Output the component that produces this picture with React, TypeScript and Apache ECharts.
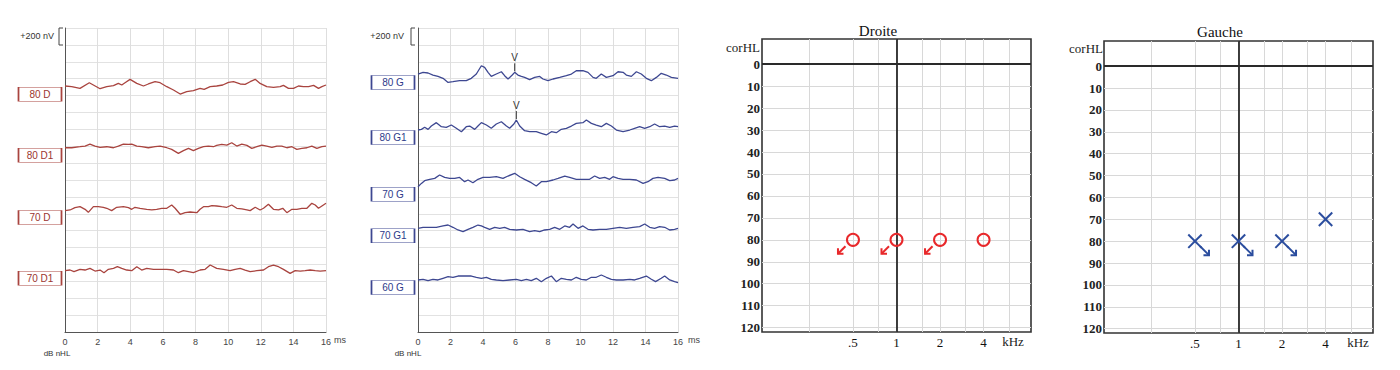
import React, { useEffect, useRef } from 'react';
import * as echarts from 'echarts';

const SANS = '"Liberation Sans", Arial, sans-serif';
const SERIF = '"Liberation Serif", "Times New Roman", serif';

// ---------- ABR traces: [latency ms, amplitude nV] ----------
const trace80D = [[0,8],[0.41,0],[0.92,-20],[1.49,47],[2.15,-24],[2.56,0],[2.97,12],[3.27,39],[3.48,20],[3.68,47],[3.99,87],[4.4,39],[4.81,8],[5.11,32],[5.52,59],[5.83,47],[6.24,0],[6.65,-39],[7.06,-87],[7.46,-59],[7.87,-47],[8.28,-20],[8.53,-32],[8.9,0],[9.3,8],[9.67,20],[10.02,51],[10.33,59],[10.74,32],[11.04,28],[11.35,59],[11.66,87],[11.96,39],[12.37,0],[12.78,-8],[13.19,0],[13.39,16],[13.7,-20],[14.01,-20],[14.31,8],[14.62,0],[14.93,0],[15.24,16],[15.54,-20],[15.75,0],[16,20]];
const trace80D1 = [[0,0],[0.41,0],[0.92,12],[1.23,20],[1.53,43],[1.84,20],[2.15,4],[2.56,12],[2.97,0],[3.27,20],[3.58,43],[3.89,39],[4.09,43],[4.4,20],[4.7,12],[5.11,0],[5.52,12],[5.83,20],[6.24,0],[6.54,-20],[6.95,-67],[7.26,-35],[7.57,-8],[7.87,-35],[8.18,-8],[8.49,12],[8.79,20],[9.1,12],[9.3,28],[9.61,39],[9.92,32],[10.22,59],[10.53,20],[10.84,43],[11.15,28],[11.45,-8],[11.76,12],[12.07,32],[12.37,20],[12.68,4],[12.99,20],[13.29,20],[13.6,0],[13.91,12],[14.21,-20],[14.52,-8],[14.83,0],[15.13,20],[15.44,-8],[15.75,12],[16,20]];
const trace70D = [[0,-8],[0.31,0],[0.61,28],[0.92,39],[1.23,8],[1.43,-28],[1.74,39],[2.04,39],[2.35,32],[2.56,20],[2.86,-8],[3.17,32],[3.58,39],[3.89,28],[4.09,8],[4.29,32],[4.6,20],[5.01,8],[5.32,0],[5.62,8],[5.93,20],[6.24,20],[6.54,59],[6.75,20],[7.06,-51],[7.36,-32],[7.67,-24],[8.08,-32],[8.28,8],[8.49,39],[8.79,39],[9,51],[9.3,47],[9.61,39],[9.92,32],[10.22,59],[10.53,20],[10.84,12],[11.15,0],[11.35,-8],[11.66,32],[11.96,0],[12.17,20],[12.47,67],[12.78,8],[13.09,0],[13.35,20],[13.6,-32],[13.91,8],[14.21,8],[14.52,20],[14.83,20],[15.13,79],[15.34,59],[15.54,20],[15.75,47],[16,79]];
const trace70D1 = [[0,0],[0.31,8],[0.55,-12],[0.92,16],[1.23,8],[1.53,28],[1.84,-4],[2.15,8],[2.39,-24],[2.66,16],[2.97,28],[3.21,47],[3.48,28],[3.78,8],[4.09,0],[4.4,47],[4.7,8],[5.01,28],[5.42,16],[5.83,16],[6.24,16],[6.65,8],[6.95,-24],[7.26,0],[7.57,-12],[7.87,-24],[8.28,8],[8.59,16],[8.9,67],[9.3,28],[9.71,16],[10.12,0],[10.43,16],[10.74,28],[11.04,8],[11.35,-12],[11.76,0],[12.17,8],[12.47,47],[12.78,67],[13.09,47],[13.39,16],[13.8,-32],[14.11,0],[14.42,-4],[14.72,0],[15.03,8],[15.34,0],[15.64,-4],[16,0]];
const trace80G = [[0,12],[0.31,32],[0.62,24],[0.92,0],[1.23,-16],[1.54,-39],[1.85,-87],[2.15,-79],[2.56,-67],[2.97,-67],[3.28,-39],[3.59,12],[3.9,110],[4.1,91],[4.31,32],[4.51,-16],[4.82,12],[5.13,39],[5.33,-8],[5.54,-47],[5.8,0],[5.95,32],[6.15,0],[6.36,-16],[6.56,-28],[6.87,-55],[7.18,-28],[7.49,-16],[7.69,-47],[8,-67],[8.31,-47],[8.72,-28],[9.13,-8],[9.44,12],[9.74,51],[10.15,51],[10.46,32],[10.77,-28],[10.97,-39],[11.28,12],[11.59,-28],[12,-8],[12.31,39],[12.62,32],[12.82,0],[13.13,-16],[13.44,39],[13.74,12],[14.05,-39],[14.36,-67],[14.67,-28],[14.97,20],[15.28,0],[15.59,-28],[16,-39]];
const trace80G1 = [[0,0],[0.21,8],[0.41,32],[0.62,8],[0.82,47],[1.13,87],[1.44,39],[1.74,32],[2.05,59],[2.36,20],[2.67,-20],[2.97,39],[3.18,47],[3.49,8],[3.69,47],[3.9,87],[4.21,59],[4.51,20],[4.82,71],[5.13,98],[5.44,47],[5.64,20],[5.9,71],[6.05,118],[6.26,47],[6.56,-8],[6.87,-20],[7.28,-20],[7.59,-39],[7.9,-59],[8.21,-20],[8.51,-32],[8.82,8],[9.13,20],[9.44,47],[9.74,79],[10.15,87],[10.36,118],[10.67,79],[10.97,59],[11.28,39],[11.59,79],[11.9,47],[12.21,0],[12.62,-20],[13.03,0],[13.33,20],[13.64,39],[13.95,20],[14.26,39],[14.56,71],[14.87,39],[15.18,47],[15.49,32],[15.79,47],[16,39]];
const trace70G = [[0,0],[0.21,39],[0.41,71],[0.72,87],[1.03,98],[1.33,138],[1.64,110],[1.95,98],[2.26,98],[2.56,110],[2.87,59],[3.08,79],[3.38,47],[3.69,87],[4,110],[4.41,110],[4.82,118],[5.23,98],[5.54,126],[5.95,158],[6.26,118],[6.56,87],[6.97,47],[7.28,8],[7.59,59],[7.9,59],[8.31,79],[8.62,98],[9.03,126],[9.33,110],[9.74,87],[10.15,87],[10.56,87],[10.87,126],[11.18,98],[11.49,110],[11.79,87],[12,118],[12.31,98],[12.62,87],[13.03,87],[13.44,79],[13.85,39],[14.15,59],[14.46,98],[14.77,110],[15.18,98],[15.49,71],[15.79,79],[16,98]];
const trace70G1 = [[0,0],[0.31,12],[0.72,12],[1.13,12],[1.54,28],[1.85,39],[2.15,12],[2.46,-20],[2.77,-39],[3.08,-12],[3.38,12],[3.69,39],[3.9,28],[4.1,12],[4.41,-12],[4.72,12],[5.03,0],[5.33,12],[5.64,-12],[6.05,-20],[6.46,-12],[6.87,-39],[7.18,-28],[7.49,-39],[7.79,-20],[8.1,-12],[8.41,12],[8.72,-12],[9.03,28],[9.33,12],[9.54,51],[9.85,0],[10.15,28],[10.46,-12],[10.77,-20],[11.18,-12],[11.59,-12],[12,0],[12.41,12],[12.82,0],[13.23,12],[13.64,20],[13.95,51],[14.26,12],[14.56,0],[14.87,20],[15.18,12],[15.49,-20],[15.79,-12],[16,0]];
const trace60G = [[0,0],[0.31,8],[0.62,-8],[0.92,8],[1.23,0],[1.54,20],[1.85,39],[2.15,32],[2.46,47],[2.87,47],[3.28,47],[3.59,32],[3.9,20],[4.21,32],[4.51,8],[4.82,0],[5.23,-8],[5.64,0],[6.05,8],[6.36,-8],[6.67,8],[6.97,-8],[7.28,20],[7.59,-20],[7.9,20],[8.21,47],[8.51,-20],[8.82,20],[9.13,8],[9.44,0],[9.74,32],[10.05,8],[10.36,0],[10.67,32],[10.97,32],[11.28,59],[11.59,32],[11.9,8],[12.21,0],[12.62,0],[13.03,8],[13.33,0],[13.64,20],[14.05,47],[14.36,8],[14.62,-20],[14.97,20],[15.18,47],[15.49,0],[15.79,-20],[16,-32]];

const rightEarNames = ['80 D', '80 D1', '70 D', '70 D1'];
const rightEarTraces = [trace80D, trace80D1, trace70D, trace70D1];
const rightEarOffsets = [2905, 2182, 1445, 726]; // nV, trace baselines
const leftEarNames = ['80 G', '80 G1', '70 G', '70 G1', '60 G'];
const leftEarTraces = [trace80G, trace80G1, trace70G, trace70G1, trace60G];
const leftEarOffsets = [3043, 2392, 1721, 1228, 616];
const waveVTraceIndex = [0, 1];
const waveVLatencies = [5.95, 6.05];

// ---------- Audiograms ----------
const freqKHz = [0.5, 1, 2, 4];
const freqLabels = ['.5', '1', '2', '4'];
const gridFreqKHz = [0.25, 0.5, 0.75, 1, 1.5, 2, 3, 4, 6];
const dbTicks = [0, 10, 20, 30, 40, 50, 60, 70, 80, 90, 100, 110, 120];
const droiteDb = [80, 80, 80, 80];
const droiteNoResponse = [1, 1, 1, 0];
const gaucheDb = [80, 80, 80, 70];
const gaucheNoResponse = [1, 1, 1, 0];

const RED_TRACE = '#a9443f';
const RED_LABEL = '#9b3530';
const BLUE_TRACE = '#3d4791';
const BLUE_LABEL = '#2d3a8a';
const AUD_RED = '#e8282b';
const AUD_BLUE = '#2b4d9e';

function abrAxes(gi: number) {
  return {
    x: {
      gridIndex: gi, type: 'value', min: 0, max: 16, interval: 2,
      axisLine: { show: true, onZero: false, lineStyle: { color: '#555', width: 1 } },
      axisTick: { show: false },
      axisLabel: { fontSize: 9, color: '#444', fontFamily: SANS, margin: 5 },
      splitLine: { show: true, lineStyle: { color: '#dedede', width: 1 } },
    },
    y: {
      gridIndex: gi, type: 'value', min: 0, max: 3600, interval: 200,
      axisLine: { show: true, onZero: false, lineStyle: { color: '#555', width: 1 } },
      axisTick: { show: false },
      axisLabel: { show: false },
      splitLine: { show: true, lineStyle: { color: '#e2e2e2', width: 1 } },
    },
  };
}

function abrSeries(names: string[], traces: number[][][], offsets: number[], gi: number, color: string, labelColor: string) {
  return traces.map((tr, i) => ({
    type: 'line', xAxisIndex: gi, yAxisIndex: gi, silent: true,
    data: tr.map(([t, v]) => [t, offsets[i] + v]),
    showSymbol: false, symbol: 'none', smooth: false,
    lineStyle: { color, width: 1.3 },
    markPoint: {
      silent: true, symbol: 'rect', symbolSize: [43, 14], symbolOffset: [-25, 7.5],
      itemStyle: { color: '#fff', borderColor: color, borderWidth: 1 },
      label: { show: true, position: 'inside', formatter: names[i], color: labelColor, fontSize: 10, fontFamily: SANS },
      data: [{ coord: [0, offsets[i]], name: names[i] }],
    },
  }));
}

function audAxes(gi: number) {
  return {
    x: {
      gridIndex: gi, type: 'value', min: -3.09, max: 3.09,
      axisLine: { show: false }, axisTick: { show: false, customValues: gridFreqKHz.map(f => Math.log2(f)) },
      axisLabel: {
        customValues: freqKHz.map(f => Math.log2(f)),
        formatter: (v: number) => {
          const i = freqKHz.findIndex(f => Math.abs(Math.log2(f) - v) < 1e-6);
          return i >= 0 ? freqLabels[i] : '';
        },
        fontFamily: SERIF, fontSize: 13, color: '#111', margin: 4,
      },
      splitLine: { show: true, lineStyle: { color: '#d8d8d8', width: 1 } },
    },
    y: {
      gridIndex: gi, type: 'value', inverse: true, min: -11.5, max: 122,
      axisLine: { show: false }, axisTick: { show: false, customValues: dbTicks },
      axisLabel: { customValues: dbTicks, fontFamily: SERIF, fontSize: 13, fontWeight: 'bold', color: '#222', margin: 2 },
      splitLine: { show: true, lineStyle: { color: '#d8d8d8', width: 1 } },
    },
  };
}

function renderRight(_p: any, api: any) {
  const p = api.coord([api.value(0), api.value(1)]);
  const x = p[0], y = p[1];
  const children: any[] = [
    { type: 'circle', shape: { cx: x, cy: y, r: 6 }, style: { fill: 'none', stroke: AUD_RED, lineWidth: 2 } },
  ];
  if (api.value(2)) {
    const tx = x - 15, ty = y + 14;
    children.push({ type: 'line', shape: { x1: x - 7.5, y1: y + 6.5, x2: tx, y2: ty }, style: { stroke: AUD_RED, lineWidth: 2 } });
    children.push({ type: 'polyline', shape: { points: [[tx + 5.5, ty], [tx, ty], [tx, ty - 5.5]] }, style: { stroke: AUD_RED, lineWidth: 2, fill: 'none' } });
  }
  return { type: 'group', children };
}

function renderLeft(_p: any, api: any) {
  const p = api.coord([api.value(0), api.value(1)]);
  const x = p[0], y = p[1], s = 6.7;
  const children: any[] = [
    { type: 'line', shape: { x1: x - s, y1: y - s, x2: x + s, y2: y + s }, style: { stroke: AUD_BLUE, lineWidth: 2 } },
    { type: 'line', shape: { x1: x - s, y1: y + s, x2: x + s, y2: y - s }, style: { stroke: AUD_BLUE, lineWidth: 2 } },
  ];
  if (api.value(2)) {
    const tx = x + 14, ty = y + 14;
    children.push({ type: 'line', shape: { x1: x + 5, y1: y + 5, x2: tx, y2: ty }, style: { stroke: AUD_BLUE, lineWidth: 2 } });
    children.push({ type: 'polyline', shape: { points: [[tx - 5.5, ty], [tx, ty], [tx, ty - 5.5]] }, style: { stroke: AUD_BLUE, lineWidth: 2, fill: 'none' } });
  }
  return { type: 'group', children };
}

function renderV(_p: any, api: any) {
  const p = api.coord([api.value(0), api.value(1)]);
  const x = p[0], y = p[1];
  return {
    type: 'group',
    children: [
      { type: 'line', shape: { x1: x, y1: y - 1, x2: x, y2: y - 9 }, style: { stroke: '#333', lineWidth: 1 } },
      { type: 'text', x, y: y - 15, style: { text: 'V', fill: '#333', font: `10px ${SANS}`, align: 'center', verticalAlign: 'middle', textAlign: 'center', textVerticalAlign: 'middle' } },
    ],
  };
}

function txt(x: number, y: number, text: string, font: string, align: string, fill = '#333') {
  return { type: 'text', x, y, silent: true, style: { text, font, fill, align, verticalAlign: 'middle', textAlign: align, textVerticalAlign: 'middle' } };
}

function bracket(xr: number, yTop: number, yBot: number) {
  return { type: 'polyline', silent: true, shape: { points: [[xr, yTop], [xr - 4, yTop], [xr - 4, yBot], [xr, yBot]] }, style: { stroke: '#444', lineWidth: 1, fill: 'none' } };
}

export default function App() {
  const ref = useRef<HTMLDivElement>(null);
  useEffect(() => {
    if (!ref.current) return;
    const chart = echarts.init(ref.current, null, { renderer: 'svg' });
    const a0 = abrAxes(0), a1 = abrAxes(1), a2 = audAxes(2), a3 = audAxes(3);
    const vData = waveVTraceIndex.map((ti, k) => {
      const t = waveVLatencies[k];
      const pt = leftEarTraces[ti].find(q => Math.abs(q[0] - t) < 1e-6);
      return [t, leftEarOffsets[ti] + (pt ? pt[1] : 0)];
    });
    const thickLines = (gi: number) => ({
      type: 'line', xAxisIndex: gi, yAxisIndex: gi, data: [], silent: true,
      markLine: {
        silent: true, symbol: 'none', label: { show: false },
        lineStyle: { color: '#2a2a2a', width: 1.8, type: 'solid' },
        data: [{ xAxis: Math.log2(1) }, { yAxis: dbTicks[0] }],
      },
    });
    const option: any = {
      animation: false,
      backgroundColor: '#fff',
      grid: [
        { left: 65, top: 28, width: 261, height: 304, outerBoundsMode: 'none' },
        { left: 418, top: 28, width: 260, height: 304, outerBoundsMode: 'none' },
        { left: 762, top: 39, width: 269, height: 293, show: true, borderColor: '#333', borderWidth: 1.6, backgroundColor: 'transparent', outerBoundsMode: 'none' },
        { left: 1104, top: 41, width: 269, height: 292, show: true, borderColor: '#333', borderWidth: 1.6, backgroundColor: 'transparent', outerBoundsMode: 'none' },
      ],
      xAxis: [a0.x, a1.x, a2.x, a3.x],
      yAxis: [a0.y, a1.y, a2.y, a3.y],
      series: [
        ...abrSeries(rightEarNames, rightEarTraces, rightEarOffsets, 0, RED_TRACE, RED_LABEL),
        ...abrSeries(leftEarNames, leftEarTraces, leftEarOffsets, 1, BLUE_TRACE, BLUE_LABEL),
        { type: 'custom', xAxisIndex: 1, yAxisIndex: 1, data: vData, renderItem: renderV, silent: true, clip: false },
        thickLines(2),
        thickLines(3),
        {
          type: 'custom', xAxisIndex: 2, yAxisIndex: 2, silent: true, clip: false, z: 5,
          data: freqKHz.map((f, i) => [Math.log2(f), droiteDb[i], droiteNoResponse[i]]),
          renderItem: renderRight,
        },
        {
          type: 'custom', xAxisIndex: 3, yAxisIndex: 3, silent: true, clip: false, z: 5,
          data: freqKHz.map((f, i) => [Math.log2(f), gaucheDb[i], gaucheNoResponse[i]]),
          renderItem: renderLeft,
        },
      ],
      graphic: [
        txt(54, 36, '+200 nV', `9px ${SANS}`, 'right'),
        bracket(63, 28, 45),
        txt(57, 353, 'dB nHL', `8px ${SANS}`, 'center'),
        txt(334, 340, 'ms', `9px ${SANS}`, 'left', '#444'),
        txt(404, 36, '+200 nV', `9px ${SANS}`, 'right'),
        bracket(415, 28, 45),
        txt(408, 353, 'dB nHL', `8px ${SANS}`, 'center'),
        txt(688, 340, 'ms', `9px ${SANS}`, 'left', '#444'),
        txt(878, 31, 'Droite', `15px ${SERIF}`, 'center', '#111'),
        txt(760, 47, 'corHL', `13px ${SERIF}`, 'right', '#222'),
        txt(1013, 341, 'kHz', `13px ${SERIF}`, 'center', '#222'),
        txt(1220, 32, 'Gauche', `15px ${SERIF}`, 'center', '#111'),
        txt(1103, 48, 'corHL', `13px ${SERIF}`, 'right', '#222'),
        txt(1358, 342, 'kHz', `13px ${SERIF}`, 'center', '#222'),
      ],
    };
    chart.setOption(option);
    return () => chart.dispose();
  }, []);
  return <div ref={ref} style={{ position: 'absolute', left: 0, top: 0, width: 1400, height: 370, background: '#fff' }} />;
}
